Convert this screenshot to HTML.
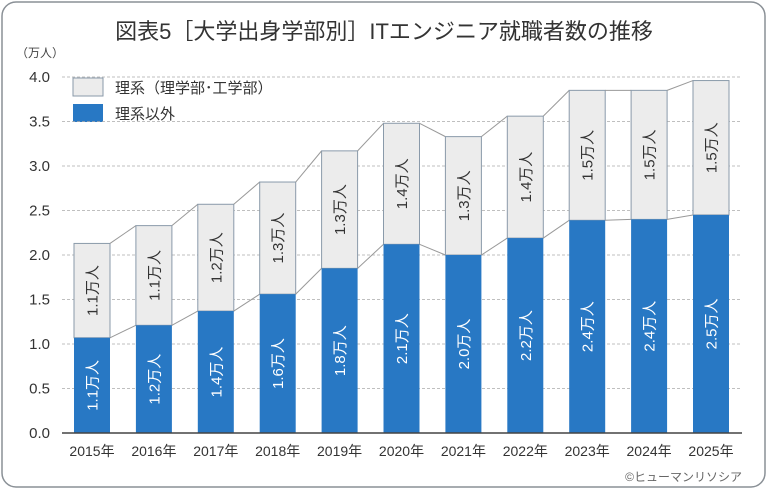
<!DOCTYPE html>
<html><head><meta charset="utf-8"><style>
html,body{margin:0;padding:0;background:#fff;}
svg{display:block;font-family:"Liberation Sans","Noto Sans CJK JP",sans-serif;}
</style></head><body>
<svg id="c" width="768" height="491" viewBox="0 0 768 491" xmlns="http://www.w3.org/2000/svg">
<rect x="2" y="2" width="763" height="485" rx="14" fill="#fff" stroke="#8a9096" stroke-width="1.5"/>
<text x="384" y="39" text-anchor="middle" font-size="22" fill="#333">図表5［大学出身学部別］ITエンジニア就職者数の推移</text>
<text x="40" y="57" text-anchor="middle" font-size="12" fill="#444">（万人）</text>
<rect x="73" y="78" width="30" height="18" fill="#ececec" stroke="#8a9aaa" stroke-width="1"/>
<text x="115" y="93" font-size="15" fill="#333">理系（理学部･工学部）</text>
<rect x="73" y="104" width="30" height="18" fill="#2878c4"/>
<text x="115" y="119" font-size="15" fill="#333">理系以外</text>
<text x="742" y="481" font-size="12" fill="#666" text-anchor="end">©ヒューマンリソシア</text>
<g id="g"></g>
</svg>
<script>
var g=document.getElementById('g'),h='';
function Y(v){return 433-v*89;}
for(var i=0;i<=8;i++){var v=i*0.5,y=Y(v);
 if(i>0)h+='<line x1="62" x2="742" y1="'+y+'" y2="'+y+'" stroke="#aaa" stroke-dasharray="3,2" stroke-width="0.8"/>';
 h+='<text x="50" y="'+(y+5)+'" text-anchor="end" font-size="15" fill="#333">'+v.toFixed(1)+'</text>';}
var b=[1.07,1.21,1.37,1.56,1.85,2.12,2.0,2.19,2.39,2.40,2.45];
var t=[2.13,2.33,2.57,2.82,3.17,3.48,3.33,3.56,3.85,3.85,3.96];
var bl=['1.1','1.2','1.4','1.6','1.8','2.1','2.0','2.2','2.4','2.4','2.5'];
var tl=['1.1','1.1','1.2','1.3','1.3','1.4','1.3','1.4','1.5','1.5','1.5'];
var w=36;
for(var i=0;i<11;i++){var cx=92+i*61.9,x=cx-w/2;
 h+='<rect x="'+x+'" y="'+Y(t[i])+'" width="'+w+'" height="'+(Y(b[i])-Y(t[i]))+'" fill="#ececec" stroke="#8a9aaa" stroke-width="1"/>';
 h+='<rect x="'+x+'" y="'+Y(b[i])+'" width="'+w+'" height="'+(433-Y(b[i]))+'" fill="#2878c4"/>';
 var my=(Y(b[i])+433)/2, ty=(Y(t[i])+Y(b[i]))/2;
 h+='<text transform="translate('+(cx+5.5)+','+my+') rotate(-90)" text-anchor="middle" font-size="15" fill="#fff">'+bl[i]+'万人</text>';
 h+='<text transform="translate('+(cx+5.5)+','+ty+') rotate(-90)" text-anchor="middle" font-size="15" fill="#333">'+tl[i]+'万人</text>';
 h+='<text x="'+cx+'" y="456" text-anchor="middle" font-size="14" fill="#333">'+(2015+i)+'年</text>';
 if(i<10){var nx=cx+61.9-w/2;
  h+='<line x1="'+(x+w)+'" y1="'+Y(t[i])+'" x2="'+nx+'" y2="'+Y(t[i+1])+'" stroke="#999" stroke-width="1"/>';
  h+='<line x1="'+(x+w)+'" y1="'+Y(b[i])+'" x2="'+nx+'" y2="'+Y(b[i+1])+'" stroke="#999" stroke-width="1"/>';}
}
h+='<line x1="62" x2="742" y1="433" y2="433" stroke="#444" stroke-width="1.5"/>';
g.innerHTML=h;
</script>
</body></html>
